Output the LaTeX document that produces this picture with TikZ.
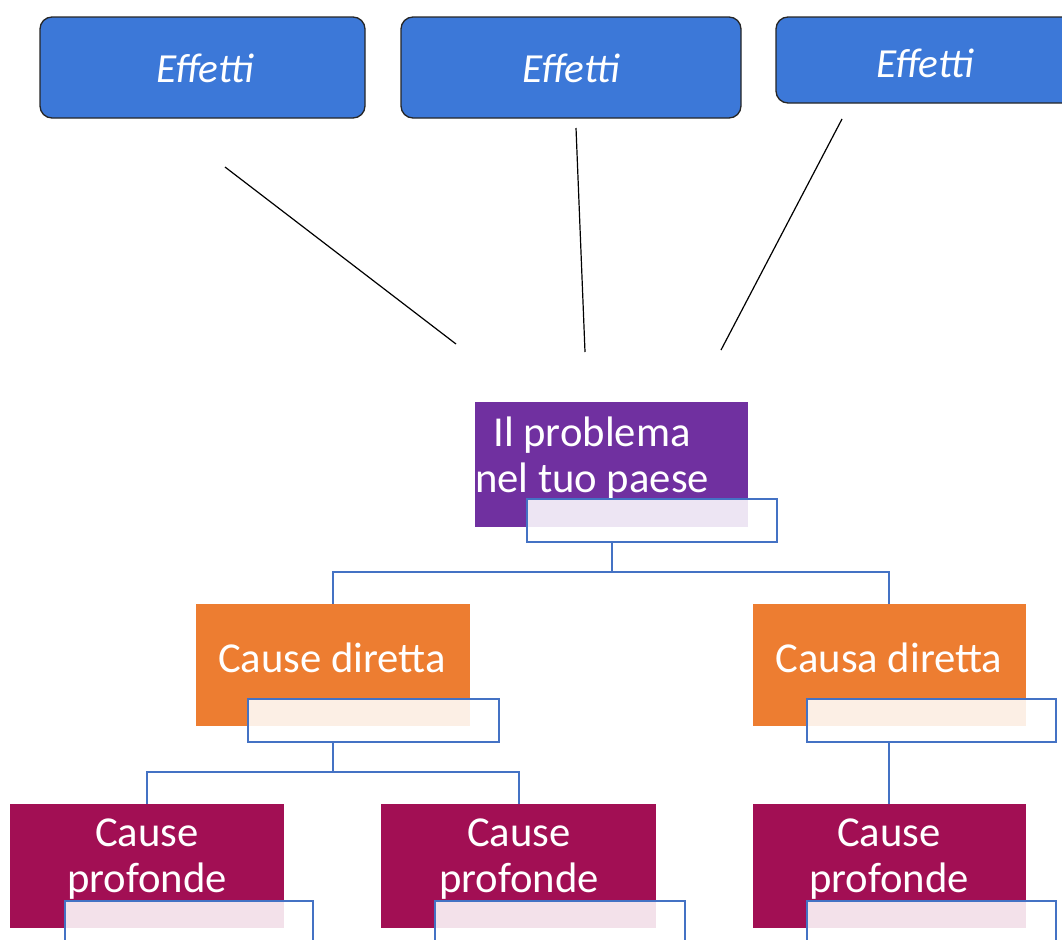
\documentclass[tikz,border=0pt]{standalone}
\usepackage{fontspec}
\setmainfont{Carlito}
\definecolor{effblue}{HTML}{3C78D8}
\definecolor{probpurple}{HTML}{7030A0}
\definecolor{causeorange}{HTML}{ED7D31}
\definecolor{deepred}{HTML}{A20F54}
\definecolor{linkblue}{HTML}{4472C4}
\begin{document}
\begin{tikzpicture}[x=0.75pt,y=-0.75pt,
  effbox/.style={draw=black!85,line width=1pt,fill=effblue,rounded corners=9pt},
  efftext/.style={text=white,font=\fontsize{31}{36}\selectfont\itshape},
  boxtext/.style={text=white,font=\fontsize{32}{34}\selectfont,align=center},
  overlay/.style={draw=linkblue,line width=1pt,fill=white,fill opacity=0.88},
  link/.style={draw=linkblue,line width=1pt},
  effline/.style={draw=black,line width=0.9pt}]
\useasboundingbox (0,0) rectangle (1062,939);
% effects boxes
\draw[effbox] (40,17) rectangle (365,118);
\node[efftext] (e1) at (205,68) {Effetti};
\draw[effbox] (401,17) rectangle (741,118);
\node[efftext] (e2) at (571,68) {Effetti};
\draw[effbox] (776,17) rectangle (1080,103);
\node[efftext] (e3) at (925,63) {Effetti};
% lines toward problem
\coordinate (l1a) at (225,167); \coordinate (l1b) at (456,344);
\coordinate (l2a) at (576,128); \coordinate (l2b) at (585,352);
\coordinate (l3a) at (842,119); \coordinate (l3b) at (721,350);
\draw[effline] (l1a) -- (l1b);
\draw[effline] (l2a) -- (l2b);
\draw[effline] (l3a) -- (l3b);
% connectors
\coordinate (pb) at (612,542);
\coordinate (c1t) at (333,604);
\coordinate (c2t) at (889,604);
\draw[link] (pb) -- (612,572) -| (c1t);
\draw[link] (612,572) -| (c2t);
\coordinate (c1b) at (333,742);
\coordinate (d1t) at (147,804);
\coordinate (d2t) at (519,804);
\draw[link] (c1b) -- (333,772) -| (d1t);
\draw[link] (333,772) -| (d2t);
\coordinate (c2b) at (889,742);
\coordinate (d3t) at (889,804);
\draw[link] (c2b) -- (d3t);
% problem
\fill[probpurple] (475,402) rectangle (748,527);
\node[boxtext] (prob) at (592,458) {Il problema\\nel tuo paese};
\draw[overlay] (527,499) rectangle (777,542);
% cause dirette
\fill[causeorange] (196,604) rectangle (470,726);
\node[boxtext] (c1) at (332,658) {Cause diretta};
\draw[overlay] (248,699) rectangle (499,742);
\fill[causeorange] (753,604) rectangle (1026,726);
\node[boxtext] (c2) at (889,658) {Causa diretta};
\draw[overlay] (807,699) rectangle (1056,742);
% cause profonde
\fill[deepred] (10,804) rectangle (284,928);
\node[boxtext] (d1) at (147,859) {Cause\\profonde};
\draw[overlay] (65,901) rectangle (313,960);
\fill[deepred] (381,804) rectangle (656,928);
\node[boxtext] (d2) at (519,859) {Cause\\profonde};
\draw[overlay] (435,901) rectangle (685,960);
\fill[deepred] (753,804) rectangle (1026,928);
\node[boxtext] (d3) at (889,859) {Cause\\profonde};
\draw[overlay] (807,901) rectangle (1056,960);
\end{tikzpicture}
\end{document}
